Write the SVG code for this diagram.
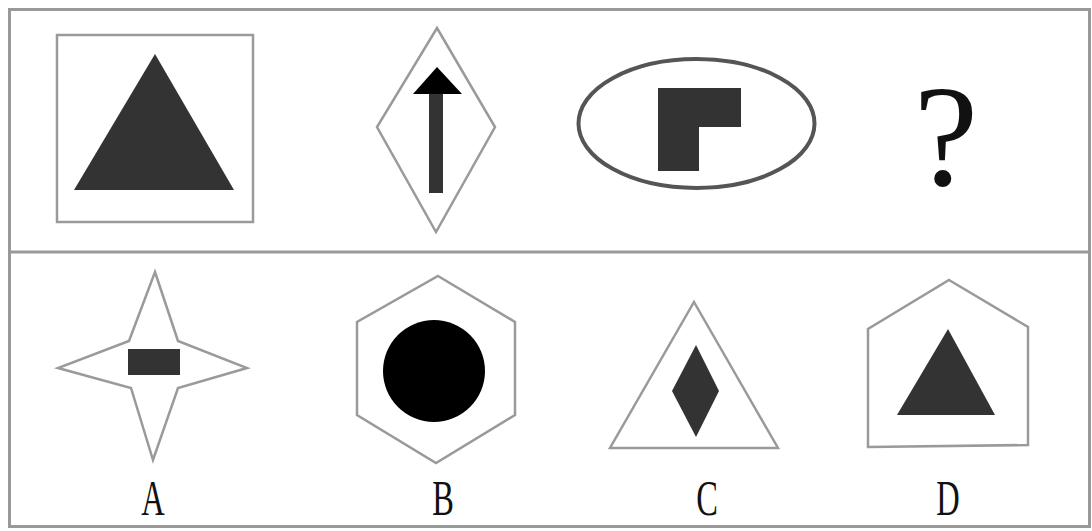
<svg xmlns="http://www.w3.org/2000/svg" width="1092" height="531" viewBox="0 0 1092 531">
<style>
.frame{fill:none;stroke:#999;stroke-width:3}
.out{fill:#fff;stroke:#9a9a9a;stroke-width:2.5;stroke-linejoin:miter}
.fill{fill:#333}
.lbl{font-family:"Liberation Serif","Times New Roman",serif;font-size:50px;fill:#111;text-anchor:middle}
</style>
<rect width="1092" height="531" fill="#fff"/>
<g id="frame">
<rect class="frame" x="9.5" y="9.5" width="1080" height="517"/>
<line class="frame" x1="9.5" y1="252" x2="1089.5" y2="252"/>
</g>
<g id="fig1">
<rect class="out" x="57" y="35" width="196" height="187" stroke-width="3"/>
<polygon class="fill" points="155,54 234,190 74,190"/>
</g>
<g id="fig2">
<polygon class="out" points="437,28 495,127 436,232 377,127" stroke-width="2"/>
<polygon fill="#000" points="437,67 462,94 413,94"/>
<rect class="fill" x="429" y="94" width="14" height="99"/>
</g>
<g id="fig3">
<ellipse cx="696.5" cy="123.5" rx="118" ry="64.5" fill="#fff" stroke="#555" stroke-width="4"/>
<polygon class="fill" points="658,88 741,88 741,127 699,127 699,171 658,171"/>
</g>
<g id="question">
<text x="946" y="185" font-family="Liberation Serif,'Times New Roman',serif" font-size="145" text-anchor="middle" fill="#111">?</text>
</g>
<g id="optA">
<polygon class="out" points="155,272 178,341 247,368 178,388 153,460 131,388 58,368 129,341"/>
<rect class="fill" x="128" y="349" width="52" height="26"/>
<text class="lbl" transform="translate(153,515) scale(0.65,1)">A</text>
</g>
<g id="optB">
<polygon class="out" points="438,276 515,322 515,415 436,463 357,415 357,322"/>
<circle cx="434" cy="371" r="51" fill="#000"/>
<text class="lbl" transform="translate(443,515) scale(0.65,1)">B</text>
</g>
<g id="optC">
<polygon class="out" points="694,302 778,448 610,448"/>
<polygon class="fill" points="696,345 719,391 696,437 672,391"/>
<text class="lbl" transform="translate(707,515) scale(0.65,1)">C</text>
</g>
<g id="optD">
<polygon class="out" points="949,280 1028,327 1028,445 868,447 868,329"/>
<polygon class="fill" points="948,329 995,415 897,415"/>
<text class="lbl" transform="translate(948,515) scale(0.65,1)">D</text>
</g>
</svg>
